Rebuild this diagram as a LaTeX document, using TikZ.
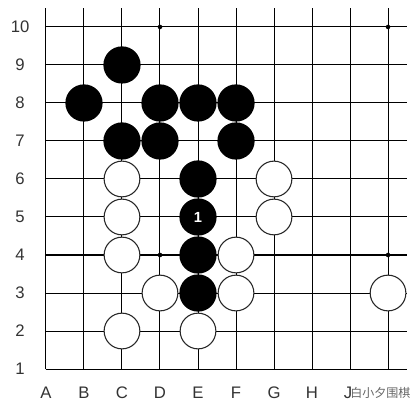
\documentclass[tikz,border=0pt]{standalone}
\usepackage{fontspec}
\setmainfont{Liberation Sans}
\newfontfamily\cjk{Noto Sans CJK SC}
\usetikzlibrary{positioning}
\tikzset{
    blackstone/.style = {circle, fill=black, inner sep=0pt, minimum size=0.98cm},
    whitestone/.style = {circle, draw=black!85, fill=white, line width=0.8pt,
                         inner sep=0pt, minimum size=0.94cm},
    starpoint/.style = {circle, fill=black, inner sep=0pt, minimum size=0.12cm},
    coordlabel/.style = {text=black!80, font=\fontsize{12.5}{13}\selectfont}
    }

\begin{document}
\begin{tikzpicture}[
      line width = 0.75pt % board lines
    ]
    \useasboundingbox (-1.21,-1.21) rectangle (9.71,9.71);

    % board
    \draw (0,0) grid (9.5,9.5);
    \draw (0,0) -- (9.5,0);
    \draw (0,0) -- (0,9.5);

    \node[starpoint] (d10) at (3,9) {};
    \node[starpoint] (k10) at (9,9) {};
    \node[starpoint] (d4) at (3,3) {};
    \node[starpoint] (k4) at (9,3) {};

    % coordinates
    \node[coordlabel] (r10) at (-0.68,9) {10};
    \node[coordlabel] (r9) at (-0.68,8) {9};
    \node[coordlabel] (r8) at (-0.68,7) {8};
    \node[coordlabel] (r7) at (-0.68,6) {7};
    \node[coordlabel] (r6) at (-0.68,5) {6};
    \node[coordlabel] (r5) at (-0.68,4) {5};
    \node[coordlabel] (r4) at (-0.68,3) {4};
    \node[coordlabel] (r3) at (-0.68,2) {3};
    \node[coordlabel] (r2) at (-0.68,1) {2};
    \node[coordlabel] (r1) at (-0.68,0) {1};

    \node[coordlabel] (ca) at (0,-0.62) {A};
    \node[coordlabel] (cb) at (1,-0.62) {B};
    \node[coordlabel] (cc) at (2,-0.62) {C};
    \node[coordlabel] (cd) at (3,-0.62) {D};
    \node[coordlabel] (ce) at (4,-0.62) {E};
    \node[coordlabel] (cf) at (5,-0.62) {F};
    \node[coordlabel] (cg) at (6,-0.62) {G};
    \node[coordlabel] (ch) at (7,-0.62) {H};
    \node[coordlabel] (cj) at (7.95,-0.62) {J};

    % black stones
    \node[blackstone] (c9) at (2,8) {};
    \node[blackstone] (b8) at (1,7) {};
    \node[blackstone] (d8) at (3,7) {};
    \node[blackstone] (e8) at (4,7) {};
    \node[blackstone] (f8) at (5,7) {};
    \node[blackstone] (c7) at (2,6) {};
    \node[blackstone] (d7) at (3,6) {};
    \node[blackstone] (f7) at (5,6) {};
    \node[blackstone] (e6) at (4,5) {};
    \node[blackstone, text=white, font=\bfseries\fontsize{11}{11}\selectfont] (e5) at (4,4) {1};
    \node[blackstone] (e4) at (4,3) {};
    \node[blackstone] (e3) at (4,2) {};

    % white stones
    \node[whitestone] (c6) at (2,5) {};
    \node[whitestone] (g6) at (6,5) {};
    \node[whitestone] (c5) at (2,4) {};
    \node[whitestone] (g5) at (6,4) {};
    \node[whitestone] (c4) at (2,3) {};
    \node[whitestone] (f4) at (5,3) {};
    \node[whitestone] (d3) at (3,2) {};
    \node[whitestone] (f3) at (5,2) {};
    \node[whitestone] (k3) at (9,2) {};
    \node[whitestone] (c2) at (2,1) {};
    \node[whitestone] (e2) at (4,1) {};

    % watermark
    \node[text=black!60, font=\cjk\fontsize{9}{9}\selectfont] (mark) at (8.8,-0.62) {白小夕围棋};
\end{tikzpicture}
\end{document}
